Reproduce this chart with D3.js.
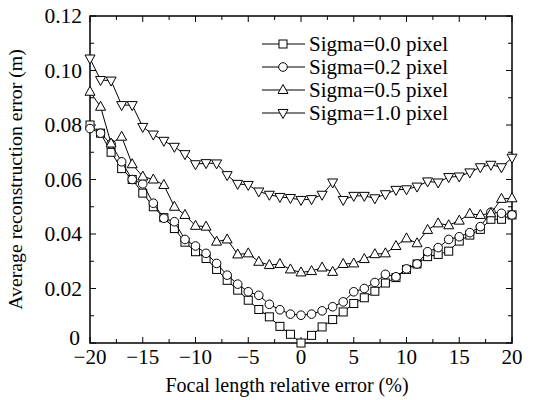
<!DOCTYPE html>
<html><head><meta charset="utf-8">
<script src="https://cdn.jsdelivr.net/npm/d3@7"></script>
<style>body{margin:0;background:#fff}svg{display:block}</style>
</head><body><svg id="c" width="555" height="400"></svg>
<script>
const xValues = d3.range(-20, 21, 1);
const sigma00 = [0.080,0.077,0.070,0.064,0.060,0.055,0.050,0.046,0.042,0.037,0.0335,0.031,0.027,0.023,0.0194,0.0157,0.0123,0.0096,0.0061,0.0032,0.000,0.0028,0.0059,0.0086,0.0114,0.0145,0.0166,0.019,0.022,0.024,0.027,0.029,0.0317,0.0325,0.0337,0.0374,0.0396,0.0417,0.0454,0.0454,0.047];
const sigma02 = [0.0787,0.077,0.073,0.0665,0.060,0.0584,0.0513,0.0458,0.0445,0.038,0.0356,0.0329,0.0292,0.0249,0.0216,0.0188,0.0175,0.0142,0.0122,0.0106,0.0102,0.0106,0.0118,0.0133,0.0151,0.0188,0.020,0.0222,0.0252,0.0243,0.0272,0.029,0.0335,0.035,0.038,0.039,0.0405,0.0427,0.048,0.0476,0.047];
const sigma05 = [0.0922,0.0867,0.0732,0.0757,0.0656,0.0611,0.060,0.058,0.050,0.047,0.043,0.0427,0.0372,0.038,0.0325,0.0329,0.0298,0.0286,0.029,0.027,0.0259,0.0264,0.0277,0.0261,0.029,0.0292,0.0308,0.0326,0.0329,0.0356,0.0384,0.0366,0.0415,0.0439,0.0432,0.0449,0.0474,0.047,0.0476,0.0529,0.0531];
const sigma10 = [0.1044,0.0965,0.0963,0.0873,0.0873,0.0793,0.0765,0.0742,0.072,0.0693,0.0656,0.066,0.0659,0.0616,0.0584,0.058,0.0556,0.0544,0.0536,0.0532,0.0525,0.0528,0.0544,0.0589,0.0525,0.054,0.054,0.0531,0.0546,0.0562,0.0564,0.0574,0.0593,0.0589,0.0609,0.0611,0.0626,0.0645,0.0654,0.0645,0.068];
const seriesNames = ["Sigma=0.0 pixel","Sigma=0.2 pixel","Sigma=0.5 pixel","Sigma=1.0 pixel"];
const markerTypes = ["square","circle","triangle","triangleDown"];
const xTicks = [-20,-15,-10,-5,0,5,10,15,20];
const yTicks = [0,0.02,0.04,0.06,0.08,0.10,0.12];
const yTickLabels = ["0","0.02","0.04","0.06","0.08","0.10","0.12"];
const xTickLabels = ["\u221220","\u221215","\u221210","\u22125","0","5","10","15","20"];

const FONT = "Liberation Serif";
const svg = d3.select("#c");
const L=90,R=512,T=16,B=343;
const x = d3.scaleLinear().domain([-20,20]).range([L,R]);
const y = d3.scaleLinear().domain([0,0.12]).range([B,T]);

svg.append("rect").attr("x",L).attr("y",T).attr("width",R-L).attr("height",B-T)
  .attr("fill","none").attr("stroke","#000").attr("stroke-width",1.5);

const g = svg.append("g").attr("stroke","#000").attr("stroke-width",1);
d3.range(-20,20.1,2.5).forEach(v=>{
  const len = xTicks.includes(v)?6:4;
  g.append("line").attr("x1",x(v)).attr("x2",x(v)).attr("y1",B).attr("y2",B-len);
  g.append("line").attr("x1",x(v)).attr("x2",x(v)).attr("y1",T).attr("y2",T+len);
});
d3.range(0,0.1201,0.01).forEach((v,i)=>{
  const len = i%2===0?6:4;
  g.append("line").attr("y1",y(v)).attr("y2",y(v)).attr("x1",L).attr("x2",L+len);
  g.append("line").attr("y1",y(v)).attr("y2",y(v)).attr("x1",R).attr("x2",R-len);
});

function txt(){ return svg.append("text").style("font-family",FONT).attr("fill","#000"); }
xTicks.forEach((v,i)=>{
  txt().attr("x",x(v)).attr("y",B+21).attr("text-anchor","middle").attr("font-size",21).text(xTickLabels[i]);
});
yTicks.forEach((v,i)=>{
  txt().attr("x",L-(i===0?10:8)).attr("y",y(v)+(i===0?2:7)).attr("text-anchor","end").attr("font-size",21.5).text(yTickLabels[i]);
});
txt().attr("x",287).attr("y",392).attr("text-anchor","middle").attr("font-size",20).text("Focal length relative error (%)");
txt().attr("transform",`translate(22,${(T+B)/2}) rotate(-90)`).attr("text-anchor","middle").attr("font-size",19.8).text("Average reconstruction error (m)");

function drawMarker(sel, type, cx, cy){
  if(type==="square") sel.append("rect").attr("x",cx-4).attr("y",cy-4).attr("width",8).attr("height",8);
  else if(type==="circle") sel.append("circle").attr("cx",cx).attr("cy",cy).attr("r",4.3);
  else if(type==="triangle") sel.append("path").attr("d",`M${cx},${cy-5.5}L${cx+5},${cy+3.5}L${cx-5},${cy+3.5}Z`);
  else sel.append("path").attr("d",`M${cx},${cy+5.5}L${cx+5},${cy-3.5}L${cx-5},${cy-3.5}Z`);
}

const allSeries = [sigma00,sigma02,sigma05,sigma10];
const line = d3.line().x((d,i)=>x(xValues[i])).y(d=>y(d));
allSeries.forEach((s,k)=>{
  svg.append("path").attr("d",line(s)).attr("fill","none").attr("stroke","#000").attr("stroke-width",1);
  const mg = svg.append("g").attr("fill","#fff").attr("stroke","#000").attr("stroke-width",1);
  s.forEach((v,i)=>drawMarker(mg, markerTypes[k], x(xValues[i]), y(v)));
});

const legY = [44,67,90,113];
seriesNames.forEach((nm,k)=>{
  svg.append("line").attr("x1",262).attr("x2",305).attr("y1",legY[k]).attr("y2",legY[k]).attr("stroke","#000").attr("stroke-width",1);
  const mg = svg.append("g").attr("fill","#fff").attr("stroke","#000").attr("stroke-width",1);
  drawMarker(mg, markerTypes[k], 283, legY[k]);
  txt().attr("x",309).attr("y",legY[k]+7).attr("font-size",21).text(nm);
});
</script></body></html>
